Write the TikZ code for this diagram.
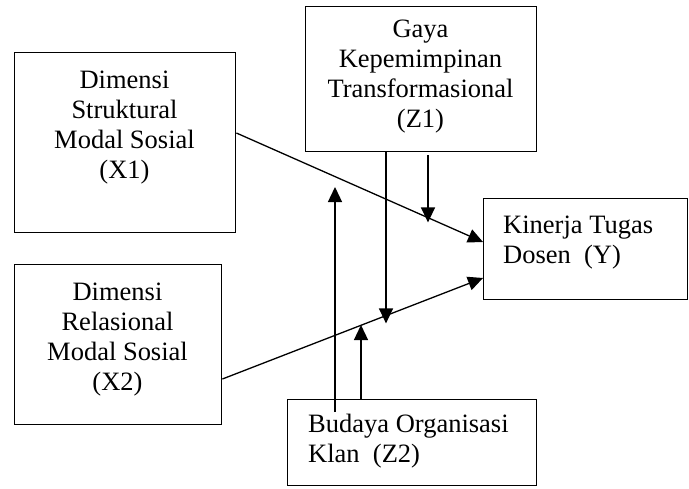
\documentclass[tikz,border=0pt]{standalone}
\usepackage{fontspec}
\setmainfont{Liberation Serif}
\usetikzlibrary{arrows.meta}
\begin{document}
\begin{tikzpicture}[x=1pt,y=-1pt,
  box/.style={draw, line width=1.4pt, inner sep=0pt, anchor=north west},
  lbl/.style={font=\fontsize{26.5}{30}\selectfont, inner sep=0pt, align=center, anchor=base},
  lbll/.style={font=\fontsize{26.5}{30}\selectfont, inner sep=0pt, align=left, anchor=base west},
  conn/.style={line width=1.3pt},
  arr/.style={conn, -{Triangle[length=15pt,width=14pt]}}]
\path[use as bounding box] (0,0) rectangle (689,488);
% boxes
\node[box, minimum width=221pt, minimum height=180pt] (x1) at (14,52) {};
\node[box, minimum width=207pt, minimum height=160pt] (x2) at (14,264) {};
\node[box, minimum width=231pt, minimum height=145pt] (z1) at (305,6) {};
\node[box, minimum width=204pt, minimum height=101pt] (y) at (483,198) {};
\node[box, minimum width=249pt, minimum height=86pt] (z2) at (287,399) {};
% texts (base anchor = last line baseline)
\node[lbl] (tx1) at (124.5,178) {Dimensi\\Struktural\\Modal Sosial\\(X1)};
\node[lbl] (tx2) at (117.5,390) {Dimensi\\Relasional\\Modal Sosial\\(X2)};
\node[lbl] (tz1) at (420.5,127) {Gaya\\Kepemimpinan\\Transformasional\\(Z1)};
\node[lbll] (ty) at (503,263) {Kinerja Tugas\\Dosen\ \ (Y)};
\node[lbll] (tz2) at (308,462) {Budaya Organisasi\\Klan\ \ (Z2)};
% connectors
\draw[arr] (x1.north east) ++(0,81) -- ([yshift=-44pt]y.north west);
\draw[arr] (x2.north east) ++(0,115) -- ([yshift=-80pt]y.north west);
\draw[arr] ([xshift=81pt]z1.south west) -- ++(0,171);
\draw[arr] ([xshift=123pt,yshift=-3pt]z1.south west) -- ++(0,67);
\draw[arr] ([xshift=48pt,yshift=-13pt]z2.north west) -- ++(0,-225);
\draw[arr] ([xshift=74pt]z2.north west) -- ++(0,-74);
\end{tikzpicture}
\end{document}
